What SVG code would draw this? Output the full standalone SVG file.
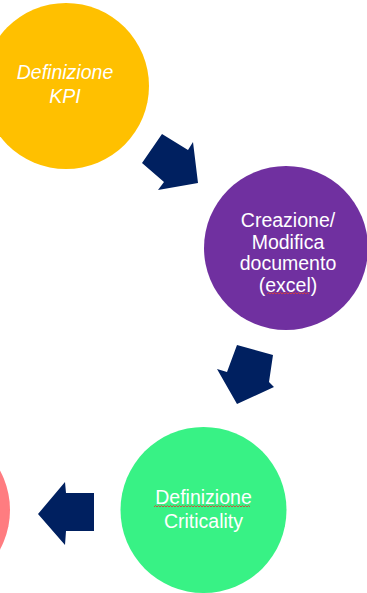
<svg xmlns="http://www.w3.org/2000/svg" width="367" height="593" viewBox="0 0 367 593">
  <style>
    .lbl { font-family: "Liberation Sans", Arial, sans-serif; font-size: 19.5px; fill: #ffffff; text-anchor: middle; }
    .it { font-style: italic; }
    .arrow { fill: #002060; }
    .squiggle { fill: none; stroke: #d9403a; stroke-width: 0.9; }
  </style>
  <rect width="367" height="593" fill="#ffffff"/>

  <g id="kpi">
    <circle cx="66" cy="86" r="83" fill="#FFC000"/>
    <text class="lbl it" x="65" y="79">Definizione</text>
    <text class="lbl it" x="65" y="103">KPI</text>
  </g>

  <g id="documento">
    <circle cx="286" cy="248" r="82" fill="#7030A0"/>
    <text class="lbl" x="288" y="227">Creazione/</text>
    <text class="lbl" x="288" y="248.5">Modifica</text>
    <text class="lbl" x="288" y="270">documento</text>
    <text class="lbl" x="288" y="291.5">(excel)</text>
    <path class="squiggle" d="M267,294 l1.5,-1.5 l1.5,1.5 l1.5,-1.5 l1.5,1.5 l1.5,-1.5 l1.5,1.5 l1.5,-1.5 l1.5,1.5 l1.5,-1.5 l1.5,1.5 l1.5,-1.5 l1.5,1.5 l1.5,-1.5 l1.5,1.5 l1.5,-1.5 l1.5,1.5 l1.5,-1.5 l1.5,1.5 l1.5,-1.5 l1.5,1.5 l1.5,-1.5 l1.5,1.5 l1.5,-1.5 l1.5,1.5 l1.5,-1.5 l1.5,1.5 l1.5,-1.5 l1.5,1.5"/>
  </g>

  <g id="criticality">
    <circle cx="203.5" cy="510" r="83" fill="#38F285"/>
    <text class="lbl" x="203.5" y="504">Definizione</text>
    <text class="lbl" x="203.5" y="528">Criticality</text>
    <path class="squiggle" d="M154,507 l1.5,-1.5 l1.5,1.5 l1.5,-1.5 l1.5,1.5 l1.5,-1.5 l1.5,1.5 l1.5,-1.5 l1.5,1.5 l1.5,-1.5 l1.5,1.5 l1.5,-1.5 l1.5,1.5 l1.5,-1.5 l1.5,1.5 l1.5,-1.5 l1.5,1.5 l1.5,-1.5 l1.5,1.5 l1.5,-1.5 l1.5,1.5 l1.5,-1.5 l1.5,1.5 l1.5,-1.5 l1.5,1.5 l1.5,-1.5 l1.5,1.5 l1.5,-1.5 l1.5,1.5 l1.5,-1.5 l1.5,1.5 l1.5,-1.5 l1.5,1.5 l1.5,-1.5 l1.5,1.5 l1.5,-1.5 l1.5,1.5 l1.5,-1.5 l1.5,1.5 l1.5,-1.5 l1.5,1.5 l1.5,-1.5 l1.5,1.5 l1.5,-1.5 l1.5,1.5 l1.5,-1.5 l1.5,1.5 l1.5,-1.5 l1.5,1.5 l1.5,-1.5 l1.5,1.5 l1.5,-1.5 l1.5,1.5 l1.5,-1.5 l1.5,1.5 l1.5,-1.5 l1.5,1.5 l1.5,-1.5 l1.5,1.5 l1.5,-1.5 l1.5,1.5 l1.5,-1.5 l1.5,1.5 l1.5,-1.5 l1.5,1.5"/>
  </g>

  <g id="next">
    <circle cx="-73" cy="510" r="83" fill="#FF7C80"/>
  </g>

  <g id="connectors">
    <polygon class="arrow" points="162,134 188,150 193,142 198,183 158,190 164,182 142,163"/>
    <polygon class="arrow" points="237,345 273,355 269,382 274,387 237,404 217,369 227,372"/>
    <polygon class="arrow" points="38,514 65,482 66,493 94,493 94,531 66,531 65,545"/>
  </g>
</svg>
